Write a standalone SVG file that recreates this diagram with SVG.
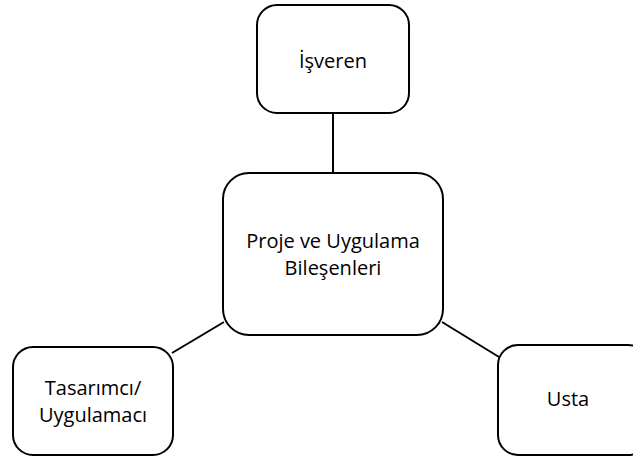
<svg xmlns="http://www.w3.org/2000/svg" width="633" height="459" viewBox="0 0 633 459">
  <style>
    .box { fill: #ffffff; stroke: #000000; stroke-width: 2; }
    .link { stroke: #000000; stroke-width: 2; fill: none; }
    .label { font-family: "Open Sans", "Liberation Sans", sans-serif; font-size: 20px; fill: #000000; text-anchor: middle; }
  </style>
  <rect width="633" height="459" fill="#ffffff"/>
  <g id="connectors">
    <line class="link" x1="333" y1="113" x2="333" y2="173"/>
    <line class="link" x1="172" y1="353" x2="224" y2="322"/>
    <line class="link" x1="442" y1="322" x2="499" y2="357"/>
  </g>
  <g id="isveren">
    <rect class="box" x="257" y="5" width="152" height="108" rx="20"/>
    <text class="label" x="333" y="68">İşveren</text>
  </g>
  <g id="proje">
    <rect class="box" x="223" y="173" width="220" height="162" rx="26"/>
    <text class="label" x="333" y="248">Proje ve Uygulama</text>
    <text class="label" x="333" y="275">Bileşenleri</text>
  </g>
  <g id="tasarimci">
    <rect class="box" x="13" y="347" width="160" height="108" rx="20"/>
    <text class="label" x="93" y="395">Tasarımcı/</text>
    <text class="label" x="93" y="422">Uygulamacı</text>
  </g>
  <g id="usta">
    <rect class="box" x="498" y="345" width="150" height="110" rx="20"/>
    <text class="label" x="568" y="406">Usta</text>
  </g>
</svg>
